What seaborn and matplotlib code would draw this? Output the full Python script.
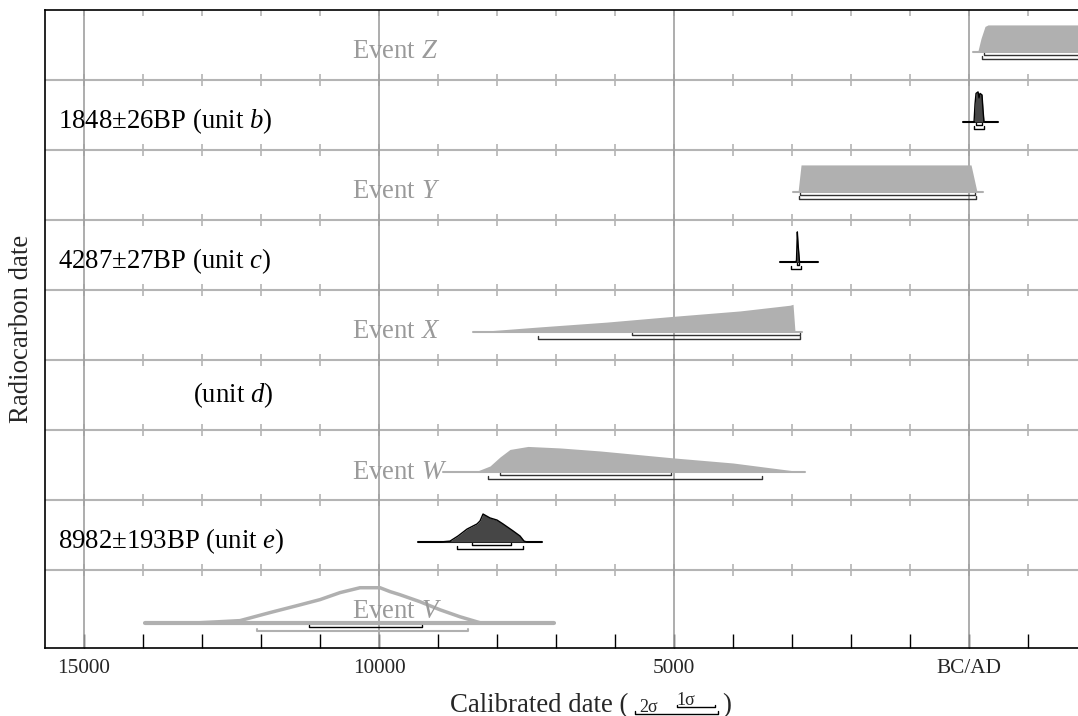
import matplotlib
matplotlib.use("Agg")
import matplotlib.pyplot as plt
from matplotlib.lines import Line2D
import numpy as np
import seaborn as sns

sns.set_theme(style="white")
plt.rcParams["font.family"] = ["Liberation Serif", "DejaVu Serif"]
plt.rcParams["mathtext.fontset"] = "custom"
plt.rcParams["mathtext.rm"] = "Liberation Serif"
plt.rcParams["mathtext.it"] = "Liberation Serif:italic"

# years are cal BC (negative = AD), probabilities relative to the row maximum
event_z_years = [-68, -153, -203, -271, -322, -1900]
event_z_prob = [0, 0.05, 0.45, 0.85, 0.9, 0.9]
event_z_base = (-68, -1900)
event_z_1s = (-254, -1900)
event_z_2s = (-220, -1900)

unit_b_years = [-85, -102, -119, -153, -170, -186, -220, -237, -254]
unit_b_prob = [0, 0.6, 0.95, 1.0, 0.8, 0.95, 0.9, 0.4, 0]
unit_b_base = (102, -492)
unit_b_1s = (-119, -220)
unit_b_2s = (-85, -254)

event_y_years = [2898, 2847, -34, -136]
event_y_prob = [0, 0.9, 0.9, 0]
event_y_base = (2983, -237)
event_y_1s = (2864, -102)
event_y_2s = (2881, -119)

unit_c_years = [2940, 2924, 2910, 2898, 2873]
unit_c_prob = [0, 0.05, 1.0, 0.6, 0]
unit_c_base = (3203, 2559)
unit_c_1s = (2920, 2880)
unit_c_2s = (3017, 2847)

event_x_years = [8407, 7271, 6136, 5017, 3881, 3034, 2983, 2949]
event_x_prob = [0, 0.17, 0.33, 0.52, 0.7, 0.89, 0.92, 0]
event_x_base = (8407, 2830)
event_x_1s = (5712, 2864)
event_x_2s = (7305, 2864)

event_w_years = [8339, 8119, 7949, 7780, 7475, 6932, 6254, 5017, 4000, 2814]
event_w_prob = [0.03, 0.2, 0.5, 0.75, 0.85, 0.8, 0.7, 0.47, 0.3, 0]
event_w_base = (8915, 2780)
event_w_1s = (7949, 5051)
event_w_2s = (8153, 3508)

unit_e_years = [8966, 8797, 8661, 8508, 8339, 8288, 8237, 8119, 8000, 7898, 7729, 7610, 7542, 7491]
unit_e_prob = [0, 0.03, 0.2, 0.43, 0.6, 0.7, 0.93, 0.8, 0.73, 0.6, 0.37, 0.2, 0.03, 0]
unit_e_base = (9339, 7237)
unit_e_1s = (8424, 7763)
unit_e_2s = (8678, 7559)

event_v_years = [13034, 12356, 11847, 11339, 11000, 10661, 10322, 9983, 9814, 9644, 9305, 8966, 8627, 8288]
event_v_prob = [0, 0.06, 0.29, 0.51, 0.66, 0.86, 1.0, 1.0, 0.89, 0.8, 0.6, 0.37, 0.17, 0]
event_v_base = (13966, 7034)
event_v_1s = (11186, 9271)
event_v_2s = (12068, 8492)

row_labels = ["Event $Z$", "1848\u00b126BP (unit $b$)", "Event $Y$", "4287\u00b127BP (unit $c$)",
              "Event $X$", "(unit $d$)", "Event $W$", "8982\u00b1193BP (unit $e$)", "Event $V$"]

major_ticks = [15000, 10000, 5000, 0]
major_labels = ["15000", "10000", "5000", "BC/AD"]

LIGHT = "#b0b0b0"
DARK = "#464646"
GRID = "#b4b4b4"

fig = plt.figure(figsize=(10.78, 7.16), dpi=100)
ax = fig.add_axes([45 / 1078, 68 / 716, 1033 / 1078, 638 / 716])
ax.set_xlim(15661, -1847)
ax.set_ylim(9.114, 0)

# grid: row separators, vertical lines at the major ticks
minor_pos = np.arange(-1000, 16000, 1000)
for r in range(0, 9):
    if r > 0:
        ax.axhline(r, color=GRID, lw=1.5, zorder=1)
    ax.plot(minor_pos, np.full(len(minor_pos), r), ls="none", marker="|",
            ms=9, mew=1.2, color=GRID, zorder=1)
for t in major_ticks:
    ax.axvline(t, color="#a0a0a0", lw=1.2, zorder=1)


def bracket(x0, x1, y, color, lw=1.0):
    t = 0.03
    ax.plot([x0, x0, x1, x1], [y - t, y, y, y - t], color=color, lw=lw, zorder=4)


def draw_row(row, years, prob, base, s1, s2, kind):
    yb = row + 0.6
    h = 0.43
    years = np.array(years, dtype=float)
    top = yb - np.array(prob) * h
    if kind == "event":
        ax.plot(base, [yb, yb], color=LIGHT, lw=1.5, zorder=2)
        ax.fill_between(years, yb, top, color=LIGHT, lw=0, zorder=3)
        bracket(*s1, yb + 0.043, "#333333")
        bracket(*s2, yb + 0.093, "#333333")
    else:
        ax.plot(base, [yb, yb], color="black", lw=1.5, zorder=2)
        ax.fill_between(years, yb, top, color=DARK, lw=0, zorder=3)
        sns.lineplot(x=years, y=top, sort=False, color="black", lw=1.0, ax=ax, zorder=4)
        bracket(*s1, yb + 0.043, "black")
        bracket(*s2, yb + 0.093, "black")


draw_row(0, event_z_years, event_z_prob, event_z_base, event_z_1s, event_z_2s, "event")
draw_row(1, unit_b_years, unit_b_prob, unit_b_base, unit_b_1s, unit_b_2s, "date")
draw_row(2, event_y_years, event_y_prob, event_y_base, event_y_1s, event_y_2s, "event")
draw_row(3, unit_c_years, unit_c_prob, unit_c_base, unit_c_1s, unit_c_2s, "date")
draw_row(4, event_x_years, event_x_prob, event_x_base, event_x_1s, event_x_2s, "event")
draw_row(6, event_w_years, event_w_prob, event_w_base, event_w_1s, event_w_2s, "event")
draw_row(7, unit_e_years, unit_e_prob, unit_e_base, unit_e_1s, unit_e_2s, "date")

# Event V: outline only (unmodelled prior)
yb_v = 8.753
ax.plot(event_v_base, [yb_v, yb_v], color=LIGHT, lw=3, zorder=2)
sns.lineplot(x=event_v_years, y=yb_v - np.array(event_v_prob) * 0.5, sort=False,
             color=LIGHT, lw=2.5, ax=ax, zorder=3)
bracket(*event_v_1s, yb_v + 0.065, "black")
bracket(*event_v_2s, yb_v + 0.12, LIGHT, lw=1.5)

# row labels
label_x = [10458, 15441, 10458, 15441, 10458, 13153, 10458, 15441, 10458]
label_dy = [0.69, 0.686, 0.69, 0.686, 0.69, 0.6, 0.7, 0.686, 0.686]
for r, (txt, lx, dy) in enumerate(zip(row_labels, label_x, label_dy)):
    col = "#9a9a9a" if txt.startswith("Event") else "black"
    ax.text(lx, r + dy, txt, ha="left", va="baseline", fontsize=19.3, color=col, zorder=5)

# axes styling
for side in ["left", "top", "bottom"]:
    ax.spines[side].set_color("black")
    ax.spines[side].set_linewidth(1.2)
ax.spines["right"].set_visible(False)
ax.set_yticks([])
ax.set_xticks(major_ticks)
ax.set_xticklabels(major_labels)
ax.set_xticks(minor_pos, minor=True)
ax.tick_params(axis="x", which="both", direction="in", length=10, width=1,
               color="black", labelsize=15.3, pad=8, bottom=True, top=False)

fig.text(22 / 1078, 1 - 329 / 716, "Radiocarbon date", rotation=90, ha="center",
         va="center", fontsize=19.3)

# x label with the sigma-range key
def fx(px):
    return px / 1078


def fy(py):
    return 1 - py / 716


fig.text(fx(450), fy(712), "Calibrated date (", ha="left", va="baseline", fontsize=19.3)
fig.text(fx(639), fy(711.5), "2\u03c3", ha="left", va="baseline", fontsize=13)
fig.text(fx(676), fy(705), "1\u03c3", ha="left", va="baseline", fontsize=13)
fig.text(fx(722), fy(712), ")", ha="left", va="baseline", fontsize=19.3)
for x0, x1, yy in [(635, 718, 713.5), (677, 715, 707)]:
    fig.add_artist(Line2D([fx(x0), fx(x0), fx(x1), fx(x1)],
                          [fy(yy - 2.5), fy(yy), fy(yy), fy(yy - 2.5)],
                          transform=fig.transFigure, color="black", lw=1))

fig.savefig("out.png", dpi=100)
